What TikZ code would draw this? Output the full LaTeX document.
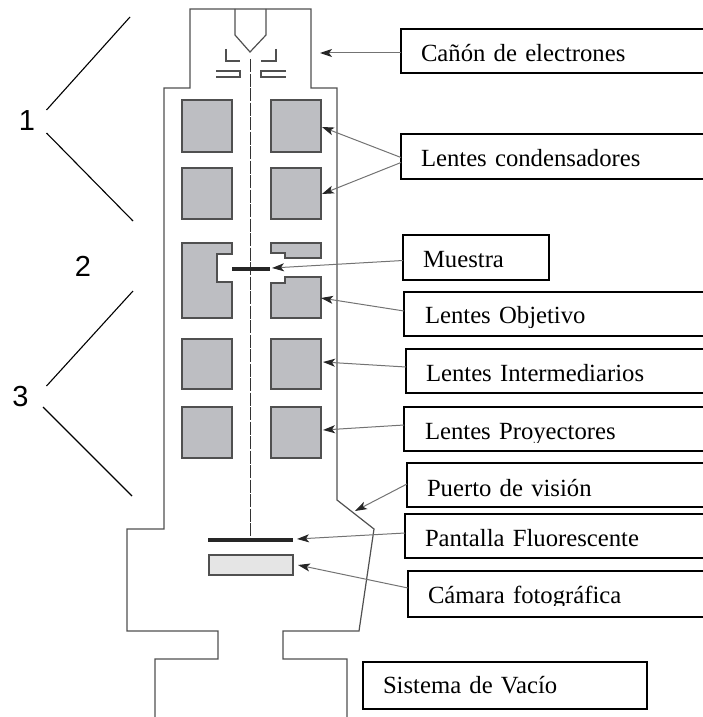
\documentclass[tikz,border=0pt]{standalone}
\usepackage{fontspec}
\setmainfont{Liberation Serif}
\newfontfamily\numfont{Liberation Sans}
\usetikzlibrary{arrows.meta}
\definecolor{lensgray}{HTML}{BDBEC2}
\definecolor{wallgray}{HTML}{505050}
\tikzset{
  wall/.style={draw=wallgray,line width=1.2pt,line join=miter},
  lens/.style={rectangle,draw=wallgray,line width=1.3pt,fill=lensgray,inner sep=0pt,outer sep=0pt,anchor=north west},
  lensshape/.style={draw=wallgray,line width=1.3pt,fill=lensgray},
  tb/.style={rectangle,draw=black,line width=1.3pt,inner sep=0pt,outer sep=0pt,anchor=north west,align=left,font=\fontsize{24.7}{25}\selectfont},
  ptr/.style={draw=black!55,line width=1pt,-{Stealth[length=12pt,width=8pt,inset=3pt,black!85]}},
  brace/.style={draw=black,line width=1.1pt},
  num/.style={inner sep=0pt,font=\numfont\fontsize{29}{29}\selectfont},
  cutband/.style={fill=white,draw=none},
}
\begin{document}
\begin{tikzpicture}[x=1pt,y=-1pt]
\useasboundingbox (0,0) rectangle (703,717);
\clip (0,0) rectangle (703,717);
% outer column
\draw[wall] (155,720) -- (155,659) -- (218,659) -- (218,631) -- (127,631) -- (127,529) -- (164,529) -- (164,88) -- (190,88) -- (190,9) -- (311,9) -- (311,88) -- (337,88) -- (337,500) -- (374,529) -- (359,631) -- (283,631) -- (283,659) -- (347,659) -- (347,720);
% gun
\draw[wall] (235,9) -- (235,35) -- (250,52) -- (266,35) -- (266,9);
\draw[wall] (226,49) -- (226,61) -- (240,61);
\draw[wall] (276,49) -- (276,61) -- (261,61);
\draw[wall] (216,71) -- (240,71) -- (240,77) -- (216,77);
\draw[wall] (286,71) -- (261,71) -- (261,77) -- (286,77);
% beam
\coordinate (beamtop) at (250,59);
\coordinate (beambot) at (250,538);
\draw[black!80,line width=.9pt,dash pattern=on 13pt off 1.5pt] (beamtop) -- (beambot);
% lenses
\node[lens,minimum width=50pt,minimum height=52pt] (L1) at (182,100) {};
\node[lens,minimum width=50pt,minimum height=52pt] (R1) at (271,100) {};
\node[lens,minimum width=50pt,minimum height=51pt] (L2) at (182,168) {};
\node[lens,minimum width=50pt,minimum height=51pt] (R2) at (271,168) {};
\node[lens,minimum width=50pt,minimum height=50pt] (L3) at (182,339) {};
\node[lens,minimum width=50pt,minimum height=50pt] (R3) at (271,339) {};
\node[lens,minimum width=50pt,minimum height=51pt] (L4) at (182,407) {};
\node[lens,minimum width=50pt,minimum height=51pt] (R4) at (271,407) {};
\draw[lensshape] (182,243) -- (232,243) -- (232,254) -- (217,254) -- (217,282) -- (232,282) -- (232,318) -- (182,318) -- cycle;
\draw[lensshape] (271,243) -- (321,243) -- (321,258) -- (285,258) -- (285,253) -- (271,253) -- cycle;
\draw[lensshape] (271,318) -- (321,318) -- (321,277) -- (285,277) -- (285,283) -- (271,283) -- cycle;
% sample, screen, camera
\node[rectangle,fill=black!85,inner sep=0pt,outer sep=0pt,anchor=north west,minimum width=38pt,minimum height=3.5pt] (sample) at (232,267) {};
\node[rectangle,fill=black!85,inner sep=0pt,outer sep=0pt,anchor=north west,minimum width=85pt,minimum height=4.5pt] (screen) at (208,537.5) {};
\node[rectangle,draw=wallgray,line width=1.2pt,fill=black!10,inner sep=0pt,outer sep=0pt,anchor=north west,minimum width=84pt,minimum height=20pt] (camera) at (209,555) {};
% labels
\node[tb,text width=306pt,text height=33pt,text depth=11pt] (cannon) at (401,29) {\hspace*{20pt}Cañón de electrones};
\node[tb,text width=306pt,text height=32pt,text depth=13pt] (cond) at (401,134) {\hspace*{20pt}Lentes condensadores};
\node[tb,text width=146pt,text height=32pt,text depth=13pt] (muestra) at (403,235) {\hspace*{20pt}Muestra};
\node[tb,text width=303pt,text height=31pt,text depth=13pt] (obj) at (404,292) {\hspace*{21pt}Lentes Objetivo};
\node[tb,text width=301pt,text height=32pt,text depth=12pt] (inter) at (406,349) {\hspace*{20pt}Lentes Intermediarios};
\node[tb,text width=303pt,text height=32pt,text depth=12pt] (proy) at (404,407) {\hspace*{21pt}Lentes Proyectores};
\node[tb,text width=300pt,text height=33pt,text depth=11pt] (puerto) at (407,463) {\hspace*{20pt}Puerto de visión};
\node[tb,text width=302pt,text height=32pt,text depth=12pt] (pantalla) at (405,514) {\hspace*{20pt}Pantalla Fluorescente};
\node[tb,text width=299pt,text height=32pt,text depth=14pt] (camara) at (408,571) {\hspace*{20pt}Cámara fotográfica};
\node[tb,text width=284pt,text height=31pt,text depth=16pt] (vacio) at (363,662) {\hspace*{20pt}Sistema de Vacío};
% descenders are cut off in the original
\fill[cutband] (425,327.5) rectangle (600,334.5);
\fill[cutband] (425,442.5) rectangle (600,449.5);
\fill[cutband] (428,605.5) rectangle (620,615.5);
% pointers
\coordinate (tipgun) at (320,53);
\coordinate (tipc1) at (322,127);
\coordinate (tipc2) at (322,194);
\coordinate (tipm) at (272,268);
\coordinate (tipo) at (321,298);
\coordinate (tipi) at (323,362);
\coordinate (tipp) at (323,430);
\coordinate (tipv) at (355,511);
\coordinate (tips) at (297,539);
\coordinate (tipk) at (298,565);
\draw[ptr] ([yshift=-2pt]cannon.west) -- (tipgun);
\draw[ptr] ([yshift=-1pt]cond.west) -- (tipc1);
\draw[ptr] ([yshift=-6pt]cond.west) -- (tipc2);
\draw[ptr] ([yshift=-3pt]muestra.west) -- (tipm);
\draw[ptr] ([yshift=3pt]obj.west) -- (tipo);
\draw[ptr] ([yshift=4pt]inter.west) -- (tipi);
\draw[ptr] ([yshift=4pt]proy.west) -- (tipp);
\draw[ptr] ([yshift=1pt]puerto.west) -- (tipv);
\draw[ptr] ([yshift=3pt]pantalla.west) -- (tips);
\draw[ptr] ([yshift=6pt]camara.west) -- (tipk);
% group numbers
\node[num] (n1) at (27,121) {1};
\node[num] (n2) at (83,266) {2};
\node[num] (n3) at (20.5,397) {3};
\coordinate (a1) at (130,17); \coordinate (a2) at (46.5,110);
\coordinate (a3) at (46.5,133); \coordinate (a4) at (133,221);
\coordinate (b1) at (133,291); \coordinate (b2) at (46.5,386);
\coordinate (b3) at (43,407); \coordinate (b4) at (132,496);
\draw[brace] (a1) -- (a2);
\draw[brace] (a3) -- (a4);
\draw[brace] (b1) -- (b2);
\draw[brace] (b3) -- (b4);
\end{tikzpicture}
\end{document}
